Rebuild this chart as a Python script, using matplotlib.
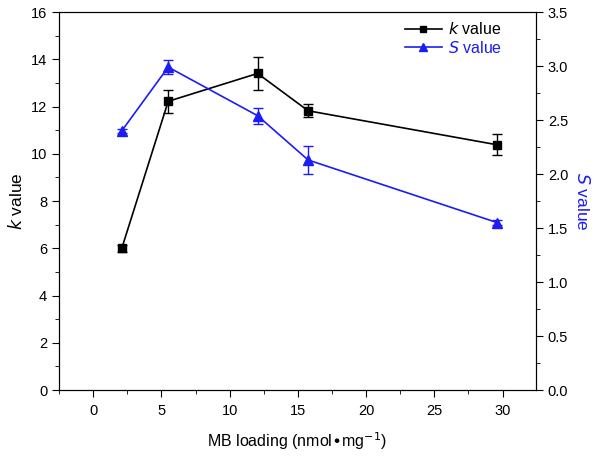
import numpy as np
import matplotlib.pyplot as plt
from matplotlib.ticker import MultipleLocator
from matplotlib.lines import Line2D

# MB loading (nmol/mg)
loading = [2.1, 5.5, 12.05, 15.75, 29.6]

k_val = [6.0, 12.22, 13.4, 11.82, 10.38]
k_err = [0.15, 0.5, 0.7, 0.27, 0.45]

s_val = [2.40, 2.99, 2.54, 2.13, 1.55]
s_err = [0.02, 0.065, 0.075, 0.13, 0.02]

blue = '#1c1cf5'
plt.rcParams['font.family'] = ['Liberation Sans', 'DejaVu Sans']

fig = plt.figure(figsize=(6.01, 4.57), dpi=100)
ax = fig.add_axes([0.0982, 0.1466, 0.7937, 0.8271])
ax2 = ax.twinx()

ax.errorbar(loading, k_val, yerr=k_err, color='black', marker='s', ms=6,
            lw=1.2, capsize=3.5, elinewidth=1)
ax2.errorbar(loading, s_val, yerr=s_err, color=blue, marker='^', ms=7,
             lw=1.2, capsize=3.5, elinewidth=1)

ax.set_xlim(-2.5, 32.45)
ax.set_ylim(0, 16)
ax2.set_ylim(0, 3.5)

ax.xaxis.set_major_locator(MultipleLocator(5))
ax.xaxis.set_minor_locator(MultipleLocator(2.5))
ax.yaxis.set_major_locator(MultipleLocator(2))
ax.yaxis.set_minor_locator(MultipleLocator(1))
ax2.yaxis.set_major_locator(MultipleLocator(0.5))
ax2.yaxis.set_minor_locator(MultipleLocator(0.25))
ax2.yaxis.set_major_formatter(plt.FormatStrFormatter('%.1f'))

for a in (ax, ax2):
    a.tick_params(which='major', length=5, direction='out', labelsize=10.5)
    a.tick_params(which='minor', length=3, direction='out')
ax.tick_params(axis='x', pad=5)

ax.set_xlabel('MB loading (nmol$\\bullet$mg$^{-1}$)', fontsize=11.5, labelpad=9)
ax.set_ylabel('$k$ value', fontsize=12.5, labelpad=4)
ax2.set_ylabel('$S$ value', fontsize=12.5, color=blue, rotation=270,
               labelpad=16)

handles = [Line2D([], [], color='black', marker='s', ms=5, lw=1.2),
           Line2D([], [], color=blue, marker='^', ms=6, lw=1.2)]
leg = ax.legend(handles, ['$k$ value', '$S$ value'], loc='upper left',
                bbox_to_anchor=(0.725, 0.975), frameon=False, fontsize=11.5,
                handlelength=2.3, handletextpad=0.4, borderpad=0,
                borderaxespad=0, labelspacing=0.15)
leg.get_texts()[1].set_color(blue)

fig.savefig('out.png', dpi=100)
